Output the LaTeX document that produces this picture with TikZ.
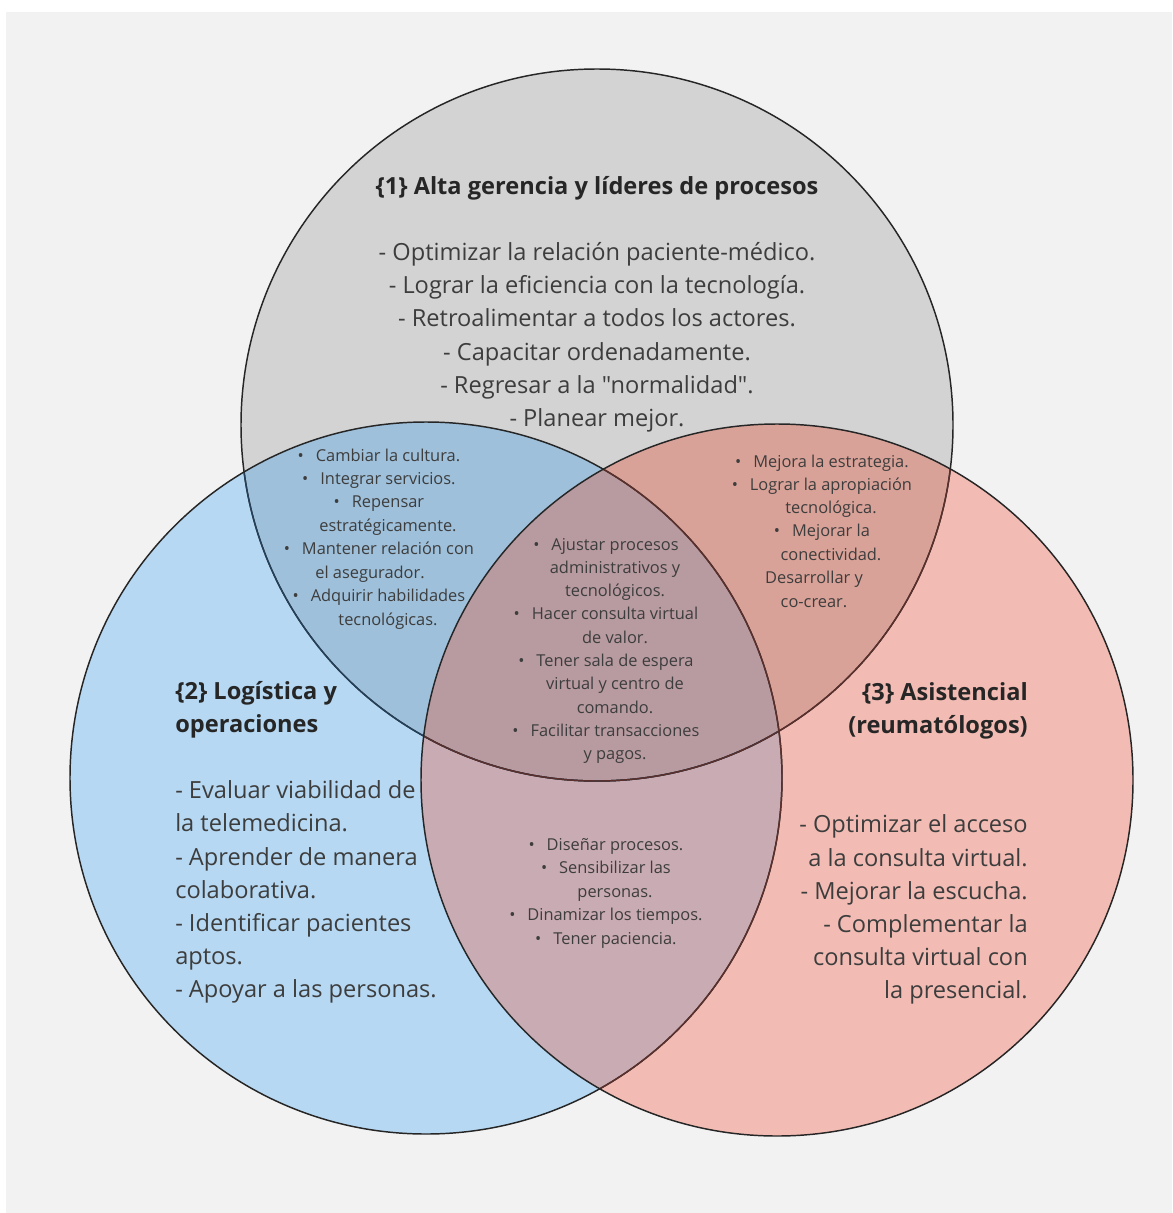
\documentclass[tikz,border=0pt]{standalone}
\usepackage{fontspec}
\setmainfont{Open Sans}[Ligatures=TeXOff]
\definecolor{bgc}{HTML}{F2F2F2}
\definecolor{ctop}{HTML}{D3D3D3}
\definecolor{cblue}{HTML}{B6D8F2}
\definecolor{cpink}{HTML}{F2BCB4}
\definecolor{ctb}{HTML}{9EC0DA}
\definecolor{ctp}{HTML}{D9A298}
\definecolor{cbp}{HTML}{C9ABB3}
\definecolor{call}{HTML}{B89BA1}
\definecolor{lnc}{HTML}{262626}
\definecolor{lnb}{HTML}{24405A}
\definecolor{lnp}{HTML}{5B302C}
\definecolor{txt}{HTML}{3D3D3D}
\definecolor{ttl}{HTML}{262626}
\newcommand\vbul{\llap{•\hspace{9pt}}}
\tikzset{
  ln/.style={line width=1.1pt, draw=lnc},
  bt/.style={font=\fontsize{17.7}{24.9}\selectfont, text=txt, inner sep=0pt, anchor=base},
  tl/.style={font=\fontsize{17.7}{24.9}\selectfont\bfseries, text=ttl, inner sep=0pt, anchor=base},
  st/.style={font=\fontsize{12.3}{17.5}\selectfont, text=txt, inner sep=0pt, anchor=base},
}
\def\topc{(597,425) circle[radius=356]}
\def\bluec{(426,778) circle[radius=356]}
\def\pinkc{(777,780) circle[radius=356]}
\begin{document}
\begin{tikzpicture}[x=0.75pt,y=-0.75pt]
\useasboundingbox (0,0) rectangle (1172,1213);
\fill[white] (0,0) rectangle (1172,1213);
\fill[bgc] (6,12) rectangle (1172,1213);
% region fills
\fill[ctop] \topc;
\fill[cblue] \bluec;
\fill[cpink] \pinkc;
\begin{scope}\clip \topc; \fill[ctb] \bluec; \end{scope}
\begin{scope}\clip \topc; \fill[ctp] \pinkc; \end{scope}
\begin{scope}\clip \bluec; \fill[cbp] \pinkc; \end{scope}
\begin{scope}\clip \topc; \clip \bluec; \fill[call] \pinkc; \end{scope}
% outlines
\draw[ln] \topc;
\begin{scope}\clip \bluec; \draw[ln, draw=lnb] \topc; \end{scope}
\begin{scope}\clip \pinkc; \draw[ln, draw=lnp] \topc; \end{scope}
\draw[ln] \bluec;
\begin{scope}\clip \pinkc; \draw[ln, draw=lnp] \bluec; \end{scope}
\draw[ln] \pinkc;
% top circle text
\node[tl] (t-title) at (597,194) {\{1\} Alta gerencia y líderes de procesos};
\foreach \txt [count=\k from 0] in {%
  - Optimizar la relación paciente-médico.,
  - Lograr la eficiencia con la tecnología.,
  - Retroalimentar a todos los actores.,
  - Capacitar ordenadamente.,
  - Regresar a la "normalidad".,
  - Planear mejor.}
  \node[bt] (t-\k) at (597,260.4+\k*33.2) {\txt};
% left circle text
\node[tl, anchor=base west] (l-title1) at (175,699) {\{2\} Logística y};
\node[tl, anchor=base west] (l-title2) at (175,732.2) {operaciones};
\foreach \txt [count=\k from 0] in {%
  - Evaluar viabilidad de,
  la telemedicina.,
  - Aprender de manera,
  colaborativa.,
  - Identificar pacientes,
  aptos.,
  - Apoyar a las personas.}
  \node[bt, anchor=base west] (l-\k) at (175,798.6+\k*33.2) {\txt};
% right circle text
\node[tl, anchor=base east] (r-title1) at (1028,700) {\{3\} Asistencial};
\node[tl, anchor=base east] (r-title2) at (1028,733.2) {(reumatólogos)};
\foreach \txt [count=\k from 0] in {%
  - Optimizar el acceso,
  a la consulta virtual.,
  - Mejorar la escucha.,
  - Complementar la,
  consulta virtual con,
  la presencial.}
  \node[bt, anchor=base east] (r-\k) at (1028,832.8+\k*33.2) {\txt};
% top & blue
\foreach \txt [count=\k from 0] in {%
  \vbul Cambiar la cultura.,
  \vbul Integrar servicios.,
  \vbul Repensar,
  estratégicamente.,
  \vbul Mantener relación con,
  el asegurador.\hspace*{27pt},
  \vbul Adquirir habilidades,
  tecnológicas.}
  \node[st] (tb-\k) at (388,461+\k*23.43) {\txt};
% top & pink
\foreach \txt [count=\k from 0] in {%
  \vbul Mejora la estrategia.,
  \vbul Lograr la apropiación,
  tecnológica.,
  \vbul Mejorar la,
  conectividad.}
  \node[st] (tp-\k) at (831,467+\k*23.33) {\txt};
\node[st] (tp-5) at (814,583.7) {Desarrollar y};
\node[st] (tp-6) at (814,607) {co-crear.};
% all three
\foreach \txt [count=\k from 0] in {%
  \vbul Ajustar procesos,
  administrativos y,
  tecnológicos.,
  \vbul Hacer consulta virtual,
  de valor.,
  \vbul Tener sala de espera,
  virtual y centro de,
  comando.,
  \vbul Facilitar transacciones,
  y pagos.}
  \node[st] (all-\k) at (615,550+\k*23.33) {\txt};
% blue & pink
\foreach \txt [count=\k from 0] in {%
  \vbul Diseñar procesos.,
  \vbul Sensibilizar las,
  personas.,
  \vbul Dinamizar los tiempos.,
  \vbul Tener paciencia.}
  \node[st] (bp-\k) at (615,850+\k*23.5) {\txt};
\end{tikzpicture}
\end{document}
